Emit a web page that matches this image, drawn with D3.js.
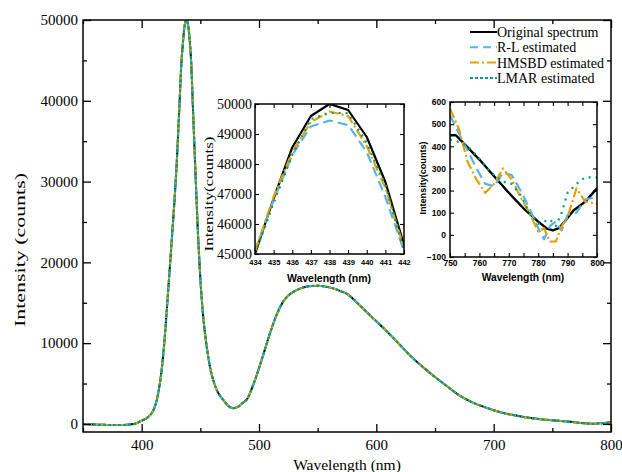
<!DOCTYPE html>
<html><head><meta charset="utf-8">
<script src="https://cdn.jsdelivr.net/npm/d3@7"></script>
<style>body{margin:0;background:#fff}svg{display:block}</style>
</head><body>
<svg id="c" width="622" height="472"></svg>
<script>
// ---- main spectrum (wavelength nm, intensity counts)
const mainWl  = [350,355,360,365,370,375,380,385,390,395,400,405,410,413,416,418,420,422,424,426,428,430,432,434,435,436,437,438,439,440,441,442,444,446,448,450,452,454,456,458,461,465,470,474,478,482,486,490,495,500,505,510,515,520,525,530,535,540,545,550,555,560,565,570,575,580,585,590,595,600,610,620,630,640,650,660,670,680,690,700,710,720,730,740,750,760,770,780,785,790,800];
const mainOrig = [0,-50,-80,-100,-120,-130,-140,-120,-60,50,400,800,1700,3000,5500,8000,11300,15300,19400,23500,27700,32600,38800,45000,46850,48550,49600,50000,49800,48900,47400,45300,38000,30500,23500,18000,14000,11200,9000,7200,5400,3900,2900,2200,1950,2100,2600,3100,4800,6900,9200,11500,13500,15000,15900,16400,16750,16980,17080,17100,17050,16900,16700,16400,16100,15500,14800,14100,13400,12700,11300,9800,8300,7000,5800,4700,3600,2800,2200,1700,1300,1000,750,580,450,340,180,50,20,70,210];

// ---- inset 1 (peak region)
const in1Wl    = [434,435,436,437,438,439,440,441,442];
const in1Orig  = [45000,46850,48550,49600,50000,49800,48900,47400,45300];
const in1RL    = [45100,46800,48300,49250,49450,49300,48400,46900,45100];
const in1HMSBD = [45100,46900,48400,49400,49750,49600,48600,47200,45200];
const in1LMAR  = [45000,46700,48300,49500,49700,49700,48700,47300,45100];

// ---- inset 2 (tail region)
const in2OrigWl = [750,752,756,760,765,770,775,780,783,785,787,789,792,796,800];
const in2Orig   = [450,450,395,340,265,190,120,60,28,20,30,60,110,150,210];
const in2Wl     = [750,753,756,759,762,765,768,771,774,777,780,782,784,786,788,790,793,796,800];
const in2RL     = [540,460,380,300,230,220,280,270,200,120,30,-20,40,60,20,90,100,160,170];
const in2HMSBD  = [570,480,330,250,190,230,300,250,170,100,15,30,-30,-30,40,80,210,150,140];
const in2LMAR   = [430,420,400,360,310,270,240,230,180,100,50,60,70,40,100,190,230,260,260];

const seriesNames = ["Original spectrum","R-L estimated","HMSBD estimated","LMAR estimated"];
const colors = ["#000000","#56B4E9","#E69F00","#009E73"];
const dashes = [null,"8,5","9,3,2,3","3,2"];
const insetDashes = [null,"10,5","10,3,2,3","2,5"];

const svg = d3.select("#c");
const serif = "'Liberation Serif','Times New Roman',serif";
const sans = "'Liberation Sans',Arial,sans-serif";

function zip(a,b){return a.map((v,i)=>[v,b[i]]);}

function frameAxes(g, x, y, o){
  const [x0,x1]=x.range(), [y1,y0]=y.range();
  const ab = d3.axisBottom(x).tickValues(o.xMajor).tickSize(-o.tl).tickPadding(o.xPad).tickFormat(o.xFmt||d3.format("d"));
  const gb = g.append("g").attr("transform",`translate(0,${y1})`).call(ab);
  gb.select(".domain").remove();
  gb.selectAll("text").attr("font-family",o.xFont).attr("font-size",o.xSize).attr("font-weight",o.xWeight||"normal").attr("fill","#000");
  const at = d3.axisTop(x).tickValues(o.xMajor).tickSize(-o.tl).tickFormat("");
  const gt = g.append("g").attr("transform",`translate(0,${y0})`).call(at);
  gt.select(".domain").remove();
  const al = d3.axisLeft(y).tickValues(o.yMajor).tickSize(-o.tl).tickPadding(o.yPad).tickFormat(o.yFmt||d3.format("d"));
  const gl = g.append("g").attr("transform",`translate(${x0},0)`).call(al);
  gl.select(".domain").remove();
  gl.selectAll("text").attr("font-family",o.yFont).attr("font-size",o.ySize).attr("font-weight",o.yWeight||"normal").attr("fill","#000");
  const ar = d3.axisRight(y).tickValues(o.yMajor).tickSize(-o.tl).tickFormat("");
  const gr = g.append("g").attr("transform",`translate(${x1},0)`).call(ar);
  gr.select(".domain").remove();
  if(o.xMinor){
    [[d3.axisBottom,y1],[d3.axisTop,y0]].forEach(([f,t])=>{
      const gm=g.append("g").attr("transform",`translate(0,${t})`).call(f(x).tickValues(o.xMinor).tickSize(-o.tm).tickFormat(""));
      gm.select(".domain").remove();
    });
  }
  if(o.yMinor){
    [[d3.axisLeft,x0],[d3.axisRight,x1]].forEach(([f,t])=>{
      const gm=g.append("g").attr("transform",`translate(${t},0)`).call(f(y).tickValues(o.yMinor).tickSize(-o.tm).tickFormat(""));
      gm.select(".domain").remove();
    });
  }
  g.selectAll(".tick line").attr("stroke","#000").attr("stroke-width",o.tw||1.3);
  g.append("rect").attr("x",x0).attr("y",y0).attr("width",x1-x0).attr("height",y1-y0)
    .attr("fill","none").attr("stroke","#000").attr("stroke-width",o.bw||1.5);
}

function drawLine(g, data, x, y, i, w, clipId, dash, curve){
  g.append("path").datum(data)
    .attr("d", d3.line().curve(curve||d3.curveLinear).x(d=>x(d[0])).y(d=>y(d[1])))
    .attr("fill","none").attr("stroke",colors[i]).attr("stroke-width",w)
    .attr("stroke-dasharray",dash[i]).attr("stroke-linejoin","round")
    .attr("clip-path",clipId?`url(#${clipId})`:null);
}

const defs = svg.append("defs");
function clip(id,x,y){
  defs.append("clipPath").attr("id",id).append("rect")
    .attr("x",x.range()[0]).attr("y",y.range()[1])
    .attr("width",x.range()[1]-x.range()[0]).attr("height",y.range()[0]-y.range()[1]);
}

// ================= MAIN =================
const xM = d3.scaleLinear().domain([350,800]).range([83,611]);
const yM = d3.scaleLinear().domain([-1000,50000]).range([432,20]);
clip("cm",xM,yM);
const gM = svg.append("g");
const mainData = zip(mainWl, mainOrig);
[0,1,2,3].forEach(i=>drawLine(gM, mainData, xM, yM, i, 2, "cm", dashes, d3.curveMonotoneX));
frameAxes(gM, xM, yM, {
  xMajor:[400,500,600,700,800], xMinor:[350,450,550,650,750],
  yMajor:[0,10000,20000,30000,40000,50000], yMinor:[5000,15000,25000,35000,45000],
  tl:8, tm:4, xPad:7, yPad:5, xFont:serif, xSize:15, yFont:serif, ySize:15
});
svg.append("text").attr("x",347).attr("y",470).attr("text-anchor","middle")
  .attr("font-family",serif).attr("font-size",15.5).text("Wavelength (nm)");
svg.append("text").attr("transform","translate(25,250) rotate(-90)").attr("text-anchor","middle")
  .attr("font-family",serif).attr("font-size",15).attr("textLength",154).attr("lengthAdjust","spacingAndGlyphs")
  .text("Intensity (counts)");

// legend
const lg = svg.append("g");
seriesNames.forEach((n,i)=>{
  const yy = 32 + i*15.3;
  lg.append("line").attr("x1",470).attr("x2",497).attr("y1",yy).attr("y2",yy)
    .attr("stroke",colors[i]).attr("stroke-width",2).attr("stroke-dasharray",dashes[i]);
  lg.append("text").attr("x",497).attr("y",yy+5).attr("font-family",serif).attr("font-size",14).text(n);
});

// ================= INSET 1 =================
const x1 = d3.scaleLinear().domain([434,442]).range([255,404]);
const y1 = d3.scaleLinear().domain([45000,50000]).range([254,104]);
clip("c1",x1,y1);
const g1 = svg.append("g");
g1.append("rect").attr("x",255).attr("y",104).attr("width",149).attr("height",150).attr("fill","#fff");
[in1Orig,in1RL,in1HMSBD,in1LMAR].forEach((s,i)=>drawLine(g1, zip(in1Wl,s), x1, y1, i, 2.2, "c1", insetDashes));
frameAxes(g1, x1, y1, {
  xMajor:in1Wl, yMajor:[45000,46000,47000,48000,49000,50000],
  tl:4, xPad:6, yPad:3, xFont:sans, xSize:7.5, xWeight:"bold", yFont:serif, ySize:14, tw:1.1
});
svg.append("text").attr("x",329).attr("y",282).attr("text-anchor","middle")
  .attr("font-family",sans).attr("font-weight","bold").attr("font-size",10.5).text("Wavelength (nm)");
svg.append("text").attr("transform","translate(213,194) rotate(-90)").attr("text-anchor","middle")
  .attr("font-family",serif).attr("font-size",13).attr("textLength",115).attr("lengthAdjust","spacingAndGlyphs")
  .text("Intensity(counts)");

// ================= INSET 2 =================
const x2 = d3.scaleLinear().domain([750,800]).range([450,597]);
const y2 = d3.scaleLinear().domain([-100,600]).range([257,102]);
clip("c2",x2,y2);
const g2 = svg.append("g");
g2.append("rect").attr("x",450).attr("y",102).attr("width",147).attr("height",155).attr("fill","#fff");
drawLine(g2, zip(in2OrigWl,in2Orig), x2, y2, 0, 2.4, "c2", insetDashes);
[in2RL,in2HMSBD,in2LMAR].forEach((s,i)=>drawLine(g2, zip(in2Wl,s), x2, y2, i+1, 2.2, "c2", insetDashes));
frameAxes(g2, x2, y2, {
  xMajor:[750,760,770,780,790,800], xMinor:[755,765,775,785,795],
  yMajor:[-100,0,100,200,300,400,500,600],
  tl:4, tm:4, xPad:3, yPad:4, xFont:sans, xSize:8.5, xWeight:"bold", yFont:sans, ySize:8.5, yWeight:"bold", tw:1.1
});
svg.append("text").attr("x",523).attr("y",281).attr("text-anchor","middle")
  .attr("font-family",sans).attr("font-weight","bold").attr("font-size",10.3).text("Wavelength (nm)");
svg.append("text").attr("transform","translate(426,178) rotate(-90)").attr("text-anchor","middle")
  .attr("font-family",sans).attr("font-weight","bold").attr("font-size",8.5).attr("textLength",73).attr("lengthAdjust","spacingAndGlyphs")
  .text("Intensity(counts)");
</script>
</body></html>
